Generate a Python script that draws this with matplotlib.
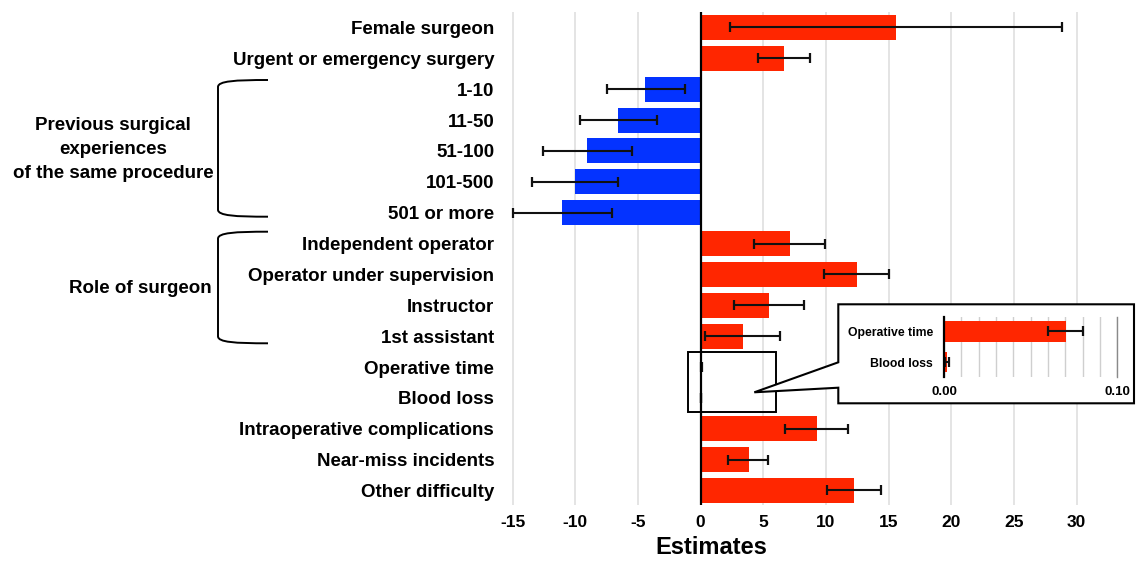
import matplotlib
matplotlib.use("Agg")
import matplotlib.pyplot as plt
import numpy as np
from matplotlib.patches import Polygon, Rectangle, PathPatch
from matplotlib.path import Path

plt.rcParams['font.family'] = ['Liberation Sans', 'DejaVu Sans']
plt.rcParams['axes.unicode_minus'] = False

# ---------------- data ----------------
categories = [
    "Female surgeon",
    "Urgent or emergency surgery",
    "1-10",
    "11-50",
    "51-100",
    "101-500",
    "501 or more",
    "Independent operator",
    "Operator under supervision",
    "Instructor",
    "1st assistant",
    "Operative time",
    "Blood loss",
    "Intraoperative complications",
    "Near-miss incidents",
    "Other difficulty",
]
estimates = [15.57, 6.66, -4.40, -6.58, -9.08, -10.03, -11.07,
             7.12, 12.47, 5.50, 3.36, 0.0704, 0.0019, 9.29, 3.84, 12.26]
ci_low = [2.35, 4.58, -7.50, -9.60, -12.57, -13.43, -15.0,
          4.28, 9.85, 2.66, 0.33, 0.0602, 0.0006, 6.75, 2.23, 10.07]
ci_high = [28.80, 8.71, -1.26, -3.49, -5.50, -6.58, -7.04,
           9.94, 15.07, 8.26, 6.36, 0.0804, 0.0031, 11.77, 5.41, 14.40]
x_ticks = [-15, -10, -5, 0, 5, 10, 15, 20, 25, 30]
inset_categories = ["Operative time", "Blood loss"]
inset_ticks = [0.0, 0.10]
inset_tick_labels = ["0.00", "0.10"]
group_labels = ["Previous surgical\nexperiences\nof the same procedure",
                "Role of surgeon"]

RED = '#FF2600'
BLUE = '#0433FF'
W, H = 1136, 562

fig = plt.figure(figsize=(W / 100, H / 100), dpi=100)


def px_rect(l, t, r, b):
    return [l / W, 1 - b / H, (r - l) / W, (b - t) / H]


# ---------------- main axes ----------------
ax = fig.add_axes(px_rect(508.75, 12.3, 1114.2, 505), zorder=1)
est = np.array(estimates)
lo = np.array(ci_low)
hi = np.array(ci_high)
y = np.arange(len(categories))
colors = [RED if v >= 0 else BLUE for v in est]
ax.barh(y, est, height=0.81, color=colors, zorder=2)
ax.errorbar(est, y, xerr=[est - lo, hi - est], fmt='none', ecolor='#111111',
            elinewidth=1.5, capsize=3.5, capthick=1.6, zorder=3)
ax.set_xlim(-15.3, 33)
ax.set_ylim(15.47, -0.49)
ax.set_yticks(y, categories)
ax.set_xticks(x_ticks, [str(t) for t in x_ticks])
ax.tick_params(axis='both', length=0)
ax.tick_params(axis='y', pad=10.5, labelsize=13.5)
ax.tick_params(axis='x', pad=7, labelsize=12.5)
for lab in ax.get_xticklabels() + ax.get_yticklabels():
    lab.set_fontweight('bold')
ax.grid(axis='x', color='#dcdcdc', lw=1.1)
ax.set_axisbelow(True)
for s in ax.spines.values():
    s.set_visible(False)
ax.axvline(0, color='black', lw=1.6, zorder=4)
# highlight rectangle around the two tiny bars
i0, i1 = categories.index("Operative time"), categories.index("Blood loss")
ax.add_patch(Rectangle((-1.0, i0 - 0.49), 7.0, (i1 - i0) + 0.96, fill=False,
                       ec='black', lw=1.4, clip_on=False, zorder=5))

fig.text(711 / W, 1 - 547 / H, "Estimates", ha='center', va='center',
         fontsize=17, fontweight='bold')

# ---------------- overlay (brackets, callout, group labels) ----------------
ov = fig.add_axes([0, 0, 1, 1], zorder=5)
ov.set_xlim(0, W)
ov.set_ylim(H, 0)
ov.axis('off')
ov.patch.set_alpha(0)


def bracket(top, bot, xv=218, xe=268):
    verts = [(xe, top), (235, top), (xv, top + 1), (xv, top + 7),
             (xv, bot - 7), (xv, bot - 1), (235, bot), (xe, bot)]
    codes = [Path.MOVETO, Path.CURVE4, Path.CURVE4, Path.CURVE4,
             Path.LINETO, Path.CURVE4, Path.CURVE4, Path.CURVE4]
    ov.add_patch(PathPatch(Path(verts, codes), fill=False, ec='black', lw=1.4))


bracket(80, 216.7)
bracket(231.7, 343.3)
ov.text(113, 149.5, group_labels[0], ha='center', va='center',
        multialignment='center', fontsize=13.5, fontweight='bold',
        linespacing=1.55)
ov.text(140, 288.3, group_labels[1], ha='center', va='center',
        fontsize=13.5, fontweight='bold')

callout = [(838.3, 304.3), (1134, 304.3), (1134, 403.3), (838.3, 403.3),
           (838.3, 387.7), (754.3, 392.3), (838.3, 362.3)]
ov.add_patch(Polygon(callout, closed=True, fc='white', ec='black', lw=1.5,
                     joinstyle='miter'))

# ---------------- inset ----------------
ai = fig.add_axes(px_rect(944, 316.7, 1117.3, 376.7), zorder=6)
ai.patch.set_alpha(0)
yi = np.arange(len(inset_categories))
idx = [categories.index(c) for c in inset_categories]
ie, il, ih = est[idx], lo[idx], hi[idx]
ai.barh(yi, ie, height=0.68, color=RED, zorder=2)
ai.errorbar(ie, yi, xerr=[ie - il, ih - ie], fmt='none', ecolor='#111111',
            elinewidth=1.5, capsize=3.5, capthick=1.6, zorder=3)
ai.set_xlim(0, 0.1)
ai.set_ylim(1.48, -0.48)
ai.set_xticks(inset_ticks, inset_tick_labels)
ai.set_xticks(np.arange(0.01, 0.1, 0.01), minor=True)
ai.set_yticks(yi, inset_categories)
ai.tick_params(axis='both', which='both', length=0)
ai.tick_params(axis='y', pad=8, labelsize=8.8)
ai.tick_params(axis='x', pad=6.5, labelsize=9.5)
for lab in ai.get_xticklabels() + ai.get_yticklabels():
    lab.set_fontweight('bold')
ai.grid(axis='x', which='both', color='#cfcfcf', lw=1.0)
ai.set_axisbelow(True)
for s in ai.spines.values():
    s.set_visible(False)
ai.axvline(0.1, color='#8a8a8a', lw=1.0, zorder=1, clip_on=False)
ai.axvline(0, color='black', lw=1.6, zorder=4, clip_on=False)

fig.savefig("out.png", dpi=100)
